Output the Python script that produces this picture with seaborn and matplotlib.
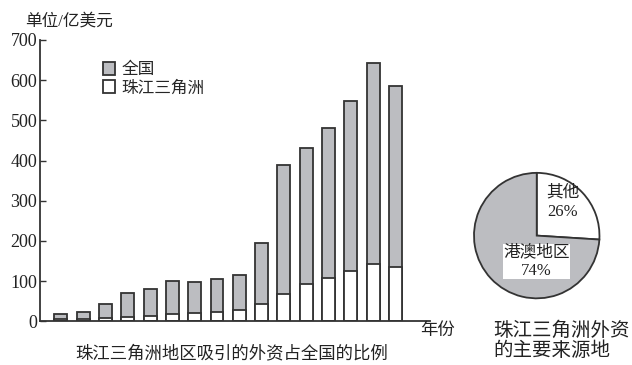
import pandas as pd
import matplotlib.pyplot as plt
import seaborn as sns

# Values (unit: 100 million USD)
years = [str(y) for y in range(1985, 2001)]
total = [18, 23, 44, 71, 80, 100, 98, 106, 116, 196, 390, 432, 482, 548, 642, 586]
prd = [6, 6, 7, 11, 12, 18, 20, 24, 28, 42, 68, 92, 107, 126, 142, 134]

source_labels = ["其他", "港澳地区"]
source_share = [26, 74]

df = pd.DataFrame({"year": years, "total": total, "prd": prd})

sns.set_style("ticks")
# serif digits first, CJK glyphs fall back to Noto
plt.rcParams["font.family"] = ["Liberation Serif", "Noto Sans CJK SC", "DejaVu Sans"]

gray = "#bcbdc1"
edge = "#333333"
ink = "#222222"

fig = plt.figure(figsize=(6.32, 3.65), dpi=100)
ax = fig.add_axes([0.0633, 0.1197, 0.617, 0.771])

sns.barplot(data=df, x="year", y="total", color=gray, edgecolor=edge,
            linewidth=1.3, width=0.58, saturation=1, label="全国", ax=ax)
sns.barplot(data=df, x="year", y="prd", color="white", edgecolor=edge,
            linewidth=1.3, width=0.58, saturation=1, label="珠江三角洲", ax=ax)

ax.set_ylim(0, 700)
ax.set_xlim(-0.94, 16.55)
ax.set_yticks(range(0, 701, 100))
ax.set_yticklabels([str(v) for v in range(0, 701, 100)], fontsize=13)
ax.set_xticks([])
ax.set_xlabel("")
ax.set_ylabel("")
ax.tick_params(axis="y", direction="in", length=4, width=1, colors=edge,
               labelcolor=ink, pad=2)
for side in ["top", "right"]:
    ax.spines[side].set_visible(False)
for side in ["left", "bottom"]:
    ax.spines[side].set_color(edge)
    ax.spines[side].set_linewidth(1.3)

ax.legend(loc="upper left", bbox_to_anchor=(0.161, 0.92), frameon=False,
          fontsize=12, handlelength=0.75, handleheight=0.75, borderpad=0,
          handletextpad=0.35, labelspacing=0.12, borderaxespad=0)

fig.text(0.04, 0.942, "单位/亿美元", fontsize=12, color=ink, va="center")
fig.text(0.665, 0.093, "年份", fontsize=12.5, color=ink, va="center")
fig.text(0.367, 0.03, "珠江三角洲地区吸引的外资占全国的比例", fontsize=12.5,
         color=ink, ha="center", va="center")

# Pie chart of investment sources
pax = fig.add_axes([0.748, 0.179, 0.2025, 0.351])
pax.pie(source_share, colors=["white", gray], startangle=90, counterclock=False,
        wedgeprops={"edgecolor": edge, "linewidth": 1.3})
pax.set_xlim(-1.02, 1.02)
pax.set_ylim(-1.02, 1.02)
pax.set_aspect("equal")
pax.text(0.41, 0.53, "其他\n26%", ha="center", va="center", fontsize=12,
         color=ink, linespacing=1.3)
pax.text(0.0, -0.41, "港澳地区\n74%", ha="center", va="center", fontsize=12,
         color=ink, linespacing=1.2,
         bbox={"facecolor": "white", "edgecolor": "none", "pad": 0.3})

fig.text(0.78, 0.066, "珠江三角洲外资\n的主要来源地", fontsize=14, color=ink,
         va="center", ha="left", linespacing=1.1)

plt.savefig("out.png", dpi=100)
